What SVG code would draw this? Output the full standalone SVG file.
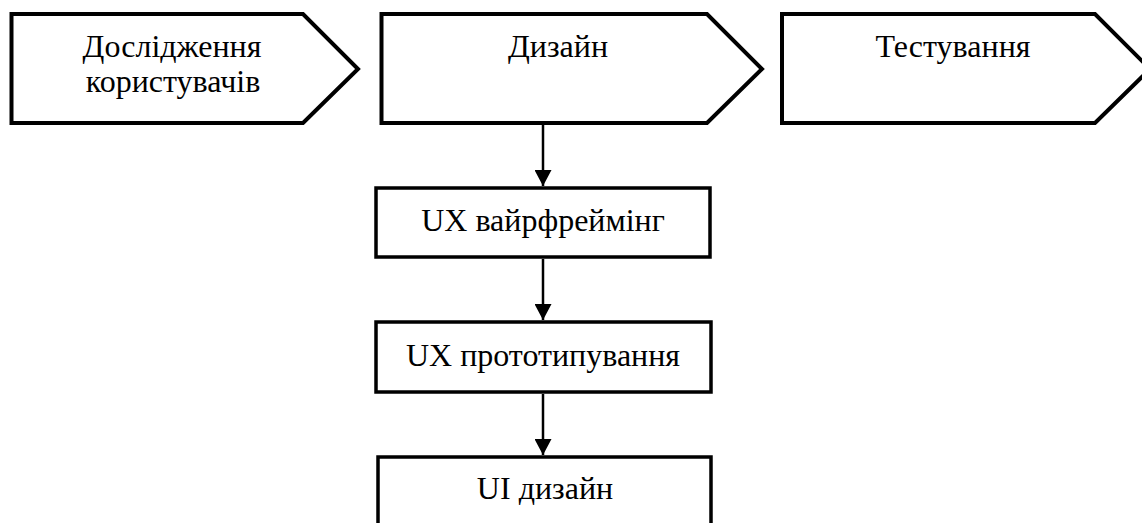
<svg xmlns="http://www.w3.org/2000/svg" width="1142" height="523" viewBox="0 0 1142 523">
<defs>
<style>
.stage{fill:#fff;stroke:#000;stroke-width:4;stroke-linejoin:miter}
.box{fill:#fff;stroke:#000;stroke-width:3.5}
.lbl{font-size:32px;fill:#000;text-anchor:middle}
.conn{stroke:#000;stroke-width:2.5;fill:none}
</style>
<marker id="ah" markerWidth="16" markerHeight="17" refX="16" refY="8.5" orient="auto" markerUnits="userSpaceOnUse" viewBox="0 0 16 17">
<path d="M0,0 L16,8.5 L0,17 Z" fill="#000"/>
</marker>
</defs>
<g font-family="'Liberation Serif', 'Times New Roman', 'DejaVu Serif', serif">
<g id="node-research">
<polygon class="stage" points="11.5,14 303,14 358,69 303,123 11.5,123"/>
<text class="lbl" x="172" y="57">Дослідження</text>
<text class="lbl" x="173" y="92">користувачів</text>
</g>
<g id="node-design">
<polygon class="stage" points="381.5,14 707,14 762,69 707,123 381.5,123"/>
<text class="lbl" x="558" y="57">Дизайн</text>
</g>
<g id="node-testing">
<polygon class="stage" points="782,14 1095,14 1150,69 1095,123 782,123"/>
<text class="lbl" x="953" y="57">Тестування</text>
</g>
<g id="node-wireframing">
<rect class="box" x="376" y="188" width="334" height="69"/>
<text class="lbl" x="543" y="231">UX вайрфреймінг</text>
</g>
<g id="node-prototyping">
<rect class="box" x="376" y="322" width="335" height="70"/>
<text class="lbl" x="543" y="366">UX прототипування</text>
</g>
<g id="node-ui">
<rect class="box" x="378" y="457" width="333" height="90"/>
<text class="lbl" x="545" y="499">UI дизайн</text>
</g>
</g>
<g id="connectors">
<line class="conn" x1="543" y1="125" x2="543" y2="186" marker-end="url(#ah)"/>
<line class="conn" x1="543" y1="259" x2="543" y2="320" marker-end="url(#ah)"/>
<line class="conn" x1="543" y1="394" x2="543" y2="455" marker-end="url(#ah)"/>
</g>
</svg>
